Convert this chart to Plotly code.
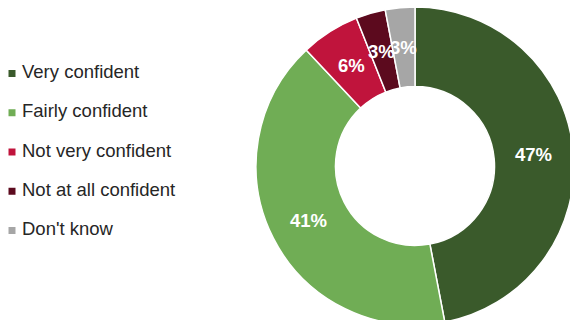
import numpy as np
import plotly.graph_objects as go

# Survey responses: share of respondents by confidence level
categories = ["Very confident", "Fairly confident", "Not very confident",
              "Not at all confident", "Don't know"]
shares = [47, 41, 6, 3, 3]
colors = ["#3a5a2b", "#70ad55", "#c0143c", "#5c0a1e", "#a6a6a6"]

W, H = 580, 332
FONT = "Liberation Sans, Arial, sans-serif"
LABEL_OFFSET = 10   # gap between swatch centre and label start, in px
HOLE = 0.5
PIE_X = [256 / W, 574 / W]          # pie domain (318 px wide, full height)
PIE_W_PX = (PIE_X[1] - PIE_X[0]) * W

fig = go.Figure()

fig.add_trace(go.Pie(
    labels=categories,
    values=shares,
    sort=False,
    direction="clockwise",
    rotation=0,
    hole=HOLE,
    marker=dict(colors=colors, line=dict(color="white", width=1.5)),
    textinfo="none",
    domain=dict(x=PIE_X, y=[0, 1]),
    showlegend=False,
    hoverinfo="label+percent",
))

# Key on the left: one square swatch per category ...
fig.add_trace(go.Scatter(
    x=[0] * len(categories),
    y=categories,
    mode="markers",
    marker=dict(symbol="square", size=7, color=colors),
    cliponaxis=False,
    showlegend=False,
    hoverinfo="skip",
))
# ... with its name beside it
fig.add_trace(go.Scatter(
    x=[LABEL_OFFSET] * len(categories),
    y=categories,
    mode="text",
    text=categories,
    textposition="middle right",
    textfont=dict(family=FONT, size=18.5, color="#262626"),
    cliponaxis=False,
    showlegend=False,
    hoverinfo="skip",
))

# Percentage labels at the middle of each ring segment (annotations sit above the pie layer)
vals = np.array(shares, dtype=float)
mid_frac = (np.cumsum(vals) - vals / 2) / vals.sum()
theta = 2 * np.pi * mid_frac             # clockwise from 12 o'clock
r_mid = (1 + HOLE) / 2
for v, t in zip(shares, theta):
    fig.add_annotation(
        x=r_mid * np.sin(t), y=r_mid * np.cos(t),
        xref="x2", yref="y2",
        text=f"<b>{v}%</b>", showarrow=False,
        xanchor="center", yanchor="middle",
        font=dict(family=FONT, size=18.5, color="white"),
    )

ky = H / PIE_W_PX
fig.update_layout(
    width=W, height=H,
    margin=dict(l=0, r=0, t=0, b=0),
    paper_bgcolor="white", plot_bgcolor="rgba(0,0,0,0)",
    xaxis=dict(visible=False, domain=[0, 1], range=[-12, W - 12], fixedrange=True),
    yaxis=dict(visible=False, type="category", range=[5.5, -1.5],
               domain=[(H - 289.4) / H, (H - 14.6) / H], fixedrange=True),
    xaxis2=dict(visible=False, domain=PIE_X, range=[-1, 1], anchor="y2", fixedrange=True),
    yaxis2=dict(visible=False, domain=[0, 1], range=[-ky, ky], anchor="x2", fixedrange=True),
)

fig.write_html(
    "out.html",
    post_script="document.documentElement.style.overflow='hidden';document.body.style.overflow='hidden';",
)
